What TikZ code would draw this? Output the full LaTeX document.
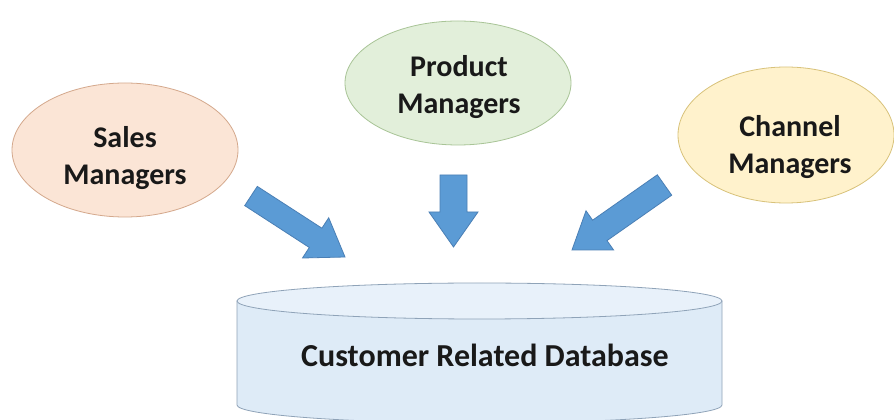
\documentclass[tikz,border=0pt]{standalone}
\usepackage{fontspec}
\setmainfont{Carlito}
\usetikzlibrary{shapes.geometric}
\definecolor{salesfill}{HTML}{FBE5D6}
\definecolor{salesline}{HTML}{D4A88C}
\definecolor{prodfill}{HTML}{E2EFDA}
\definecolor{prodline}{HTML}{A8C496}
\definecolor{chanfill}{HTML}{FFF2CC}
\definecolor{chanline}{HTML}{D8C27A}
\definecolor{arrfill}{HTML}{5B9BD5}
\definecolor{arrline}{HTML}{4A7FB5}
\definecolor{dbfill}{HTML}{DEEBF7}
\definecolor{dbtop}{HTML}{E8F1FA}
\definecolor{dbline}{HTML}{8FA3B8}
\tikzset{
  bubble/.style={ellipse, inner sep=0pt, line width=0.8pt},
  lbl/.style={font=\bfseries\fontsize{30}{37}\selectfont, align=center, inner sep=0pt, text=black!90},
  dblbl/.style={font=\bfseries\fontsize{32}{38}\selectfont, inner sep=0pt, text=black!90},
  blockarrow/.style={fill=arrfill, draw=arrline, line width=0.8pt, line join=miter},
}
\begin{document}
\begin{tikzpicture}[x=1pt,y=1pt]
\useasboundingbox (0,0) rectangle (894,420);
\fill[white] (0,0) rectangle (894,420);
% ellipses
\node[bubble, draw=salesline, fill=salesfill, minimum width=226, minimum height=134] (sales) at (125,270) {};
\node[bubble, draw=prodline, fill=prodfill, minimum width=226, minimum height=124] (prod) at (458,337) {};
\node[bubble, draw=chanline, fill=chanfill, minimum width=216, minimum height=136] (chan) at (786,285) {};
\node[lbl] (salesT) at (125,262) {Sales\\Managers};
\node[lbl] (prodT) at (459,333) {Product\\Managers};
\node[lbl] (chanT) at (790,273) {Channel\\Managers};
% arrows
\draw[blockarrow] (244.7,214.4) -- (257.3,233.6) -- (321.9,191.8) -- (328.7,202.2) -- (345,163) -- (302.5,162) -- (309.3,172.5) -- cycle;
\draw[blockarrow] (440,245) -- (467,245) -- (467,208) -- (478,208) -- (453.5,173) -- (429,208) -- (440,208) -- cycle;
\draw[blockarrow] (657.3,245.2) -- (671.7,224.8) -- (607.0,179.4) -- (613.6,170) -- (572,170) -- (586.0,209.2) -- (592.6,199.8) -- cycle;
% database cylinder
\draw[fill=dbfill, draw=dbline, line width=0.8pt] (237,119) -- (237,15) arc[start angle=180, end angle=360, x radius=242.5, y radius=18] -- (722,119) -- cycle;
\draw[fill=dbtop, draw=dbline, line width=0.8pt] (479.5,119) ellipse [x radius=242.5, y radius=18];
\node[dblbl, anchor=base] (dbT) at (485,53) {Customer Related Database};
\end{tikzpicture}
\end{document}
